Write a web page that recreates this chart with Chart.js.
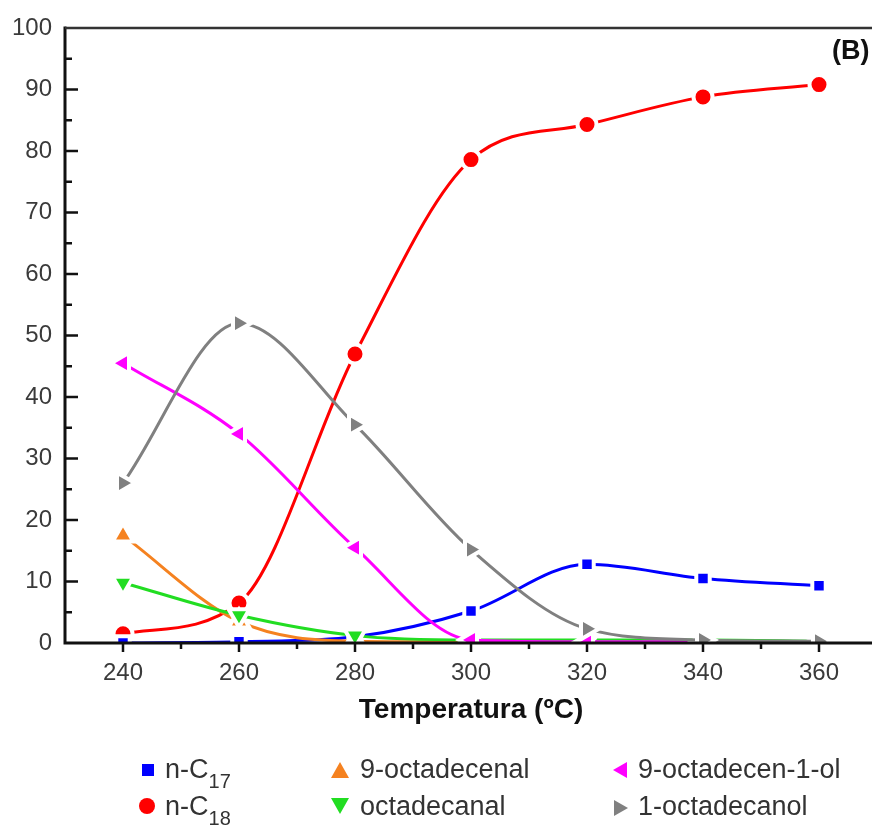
<!DOCTYPE html>
<html><head><meta charset="utf-8">
<script src="https://cdn.jsdelivr.net/npm/chart.js@4/dist/chart.umd.min.js"></script>
<style>
html,body{margin:0;padding:0;background:#fff;overflow:hidden;width:872px;height:831px;}
#wrap{position:relative;width:872px;height:831px;overflow:hidden;}
canvas{position:absolute;left:0;top:0;}
.lg{position:absolute;font-family:"Liberation Sans",Arial,sans-serif;font-size:27px;color:#333;white-space:nowrap;line-height:27px;}
.lg sub{font-size:20px;position:relative;top:10px;vertical-align:baseline;line-height:0;}
.mk{position:absolute;}
#tagB{position:absolute;left:832px;top:37px;font-family:"Liberation Sans",Arial,sans-serif;font-weight:bold;font-size:27px;line-height:27px;color:#111;}
</style></head>
<body><div id="wrap">
<canvas id="c" width="893" height="831" style="width:893px;height:831px"></canvas>
<div id="tagB">(B)</div>
<div id="legend"></div>
</div>
<script>
const temps = [240, 260, 280, 300, 320, 340, 360];
const nC17 = [0, 0.2, 1.0, 5.2, 12.8, 10.5, 9.3];
const nC18 = [1.5, 6.5, 47.0, 78.6, 84.3, 88.8, 90.8];
const octadecenal9 = [17.5, 3.5, 0.3, 0.2, 0.2, 0.2, 0.2];
const octadecanal = [9.8, 4.5, 1.2, 0.5, 0.5, 0.5, 0.3];
const octadecenol9 = [45.5, 34.0, 15.5, 0.5, 0.2, 0.2, 0.2];
const octadecanol1 = [26.0, 52.0, 35.5, 15.2, 2.3, 0.5, 0.3];
const xTicks = [240, 260, 280, 300, 320, 340, 360];
const yTicks = [0, 10, 20, 30, 40, 50, 60, 70, 80, 90, 100];

function pts(arr){ return temps.map((t,i)=>({x:t,y:arr[i]})); }
function ds(label, arr, color, style, rot, r){
  return {label, data:pts(arr), borderColor:color, backgroundColor:color,
    borderWidth:3, pointStyle:style, pointRotation:rot||0, pointRadius:r, pointHoverRadius:r,
    pointBorderWidth:4, pointBorderColor:'#ffffff', pointHoverBorderColor:'#ffffff',
    tension:0.4, cubicInterpolationMode:'monotone', fill:false};
}
const datasets = [
  ds('1-octadecanol', octadecanol1, '#808080', 'triangle', 90, 12),
  ds('9-octadecen-1-ol', octadecenol9, '#ff00ff', 'triangle', -90, 12),
  ds('octadecanal', octadecanal, '#22dd22', 'triangle', 180, 12),
  ds('9-octadecenal', octadecenal9, '#f58220', 'triangle', 0, 12),
  ds('n-C17', nC17, '#0000ff', 'rect', 0, 9.5),
  ds('n-C18', nC18, '#ff0000', 'circle', 0, 9.5),
];

const axesPlugin = {
  id:'axesPlugin',
  afterDraw(chart){
    const {ctx, chartArea:a, scales:{x,y}} = chart;
    ctx.save();
    ctx.strokeStyle='#111'; ctx.lineWidth=3; ctx.lineCap='butt';
    ctx.beginPath();
    ctx.moveTo(a.left, a.top-1.5); ctx.lineTo(a.left, a.bottom+1.5);
    ctx.moveTo(a.left-1.5, a.bottom); ctx.lineTo(a.right+20, a.bottom);
    ctx.stroke();
    ctx.strokeStyle='#333'; ctx.lineWidth=2.5;
    ctx.beginPath(); ctx.moveTo(a.left, a.top); ctx.lineTo(a.right+20, a.top); ctx.stroke();
    ctx.strokeStyle='#111'; ctx.lineWidth=2.5;
    ctx.beginPath();
    for(let v=5; v<100; v+=5){
      const py=y.getPixelForValue(v);
      const len = (v%10===0)?13:7;
      ctx.moveTo(a.left, py); ctx.lineTo(a.left+len, py);
    }
    for(let v=240; v<=360; v+=10){
      const px=x.getPixelForValue(v);
      const len = (v%20===0)?9:6;
      ctx.moveTo(px, a.bottom); ctx.lineTo(px, a.bottom+len);
    }
    ctx.stroke();
    ctx.restore();
  }
};

const tickFont = {family:'"Liberation Sans", Arial, sans-serif', size:24};
new Chart(document.getElementById('c'), {
  type:'line',
  data:{datasets},
  plugins:[axesPlugin],
  options:{
    responsive:false, animation:false, devicePixelRatio:1,
    layout:{padding:{left:0,right:3,top:28,bottom:103}},
    plugins:{legend:{display:false}, tooltip:{enabled:false}},
    scales:{
      x:{type:'linear', min:230, max:370,
        afterBuildTicks(s){ s.ticks = xTicks.map(v=>({value:v})); },
        afterFit(s){ s.height = 85; },
        grid:{display:false, drawTicks:false}, border:{display:false},
        ticks:{padding:16, color:'#3a3a3a', font:tickFont, maxRotation:0},
        title:{display:true, text:'Temperatura (ºC)', color:'#111', padding:{top:0,bottom:1},
          font:{family:'"Liberation Sans", Arial, sans-serif', size:28, weight:'bold'}}
      },
      y:{type:'linear', min:0, max:100,
        afterBuildTicks(s){ s.ticks = yTicks.map(v=>({value:v})); },
        afterFit(s){ s.width = 65; },
        grid:{display:false, drawTicks:false}, border:{display:false},
        ticks:{padding:13, color:'#3a3a3a', font:tickFont}
      }
    }
  }
});

// HTML legend
const legendItems = [
  {html:'n-C<sub>17</sub>', color:'#0000ff', shape:'square', mx:148, tx:165, y:770, base:778},
  {html:'9-octadecenal', color:'#f58220', shape:'up', mx:340, tx:360, y:770, base:778},
  {html:'9-octadecen-1-ol', color:'#ff00ff', shape:'left', mx:620, tx:638, y:770, base:778},
  {html:'n-C<sub>18</sub>', color:'#ff0000', shape:'circle', mx:147, tx:165, y:806, base:815},
  {html:'octadecanal', color:'#22dd22', shape:'down', mx:340, tx:360, y:806, base:815},
  {html:'1-octadecanol', color:'#808080', shape:'right', mx:621, tx:638, y:808, base:815},
];
const lg = document.getElementById('legend');
legendItems.forEach(it=>{
  const m = document.createElement('div'); m.className='mk';
  const c=it.color, x=it.mx, y=it.y;
  let st='';
  if(it.shape==='square') st=`left:${x-6}px;top:${y-6}px;width:12px;height:12px;background:${c};`;
  if(it.shape==='circle') st=`left:${x-8}px;top:${y-8}px;width:16px;height:16px;border-radius:50%;background:${c};`;
  if(it.shape==='up') st=`left:${x-9}px;top:${y-8}px;width:0;height:0;border-left:9px solid transparent;border-right:9px solid transparent;border-bottom:16px solid ${c};`;
  if(it.shape==='down') st=`left:${x-9}px;top:${y-8}px;width:0;height:0;border-left:9px solid transparent;border-right:9px solid transparent;border-top:16px solid ${c};`;
  if(it.shape==='left') st=`left:${x-7}px;top:${y-8}px;width:0;height:0;border-top:8px solid transparent;border-bottom:8px solid transparent;border-right:14px solid ${c};`;
  if(it.shape==='right') st=`left:${x-7}px;top:${y-8}px;width:0;height:0;border-top:8px solid transparent;border-bottom:8px solid transparent;border-left:14px solid ${c};`;
  m.style.cssText=st; lg.appendChild(m);
  const t = document.createElement('div'); t.className='lg';
  t.style.left=it.tx+'px'; t.style.top=(it.base-22)+'px';
  t.innerHTML=it.html; lg.appendChild(t);
});
</script>
</body></html>
